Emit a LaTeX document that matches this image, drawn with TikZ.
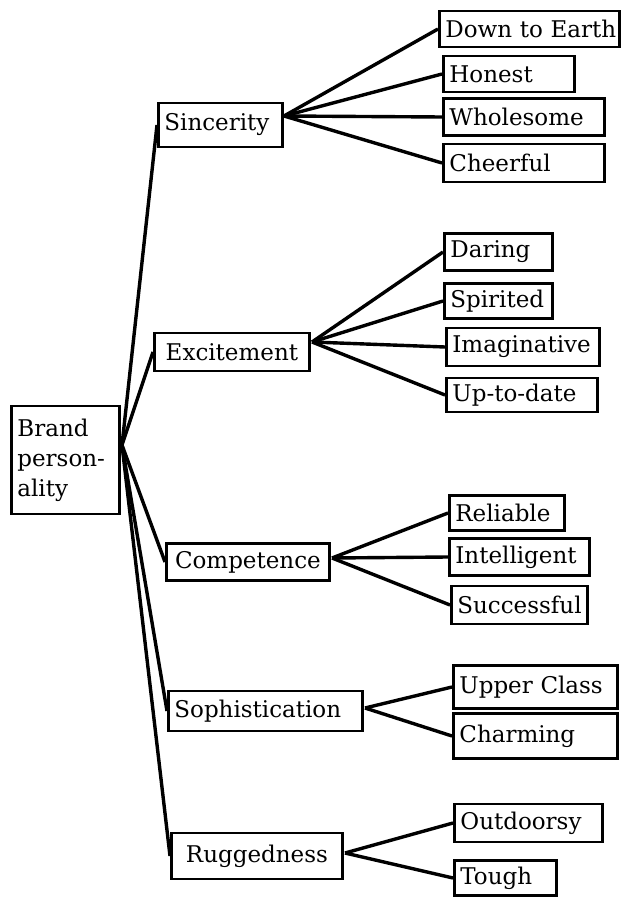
\documentclass[tikz,border=0pt]{standalone}
\usepackage{fontspec}
\setmainfont{DejaVu Serif}
\usetikzlibrary{positioning}
\tikzset{
  leafbox/.style={draw, line width=1.4pt, anchor=west, inner xsep=3pt, inner ysep=0pt, align=left},
  traitbox/.style={draw, line width=1.4pt, anchor=west, inner xsep=3pt, inner ysep=0pt, align=center},
  branch/.style={line width=1.7pt}
}
\begin{document}
\begin{tikzpicture}[x=0.5pt, y=-0.5pt, font=\fontsize{11.5pt}{15pt}\selectfont]
\useasboundingbox (0,0) rectangle (622,898);

\node (brand) at (10,460) [traitbox, align=left, text width=48pt, minimum height=54pt] {Brand\\person-\\ality};
\coordinate (brand_fan) at (122,445);

% Sincerity
\node (sinc) at (157,125) [traitbox, align=left, text width=56pt, minimum height=22pt] {Sincerity};
\coordinate (sinc_fan) at (284,116);
\node (sinc_earth) at (438,29) [leafbox, text width=84pt, minimum height=18pt] {Down~to~Earth};
\node (sinc_honest) at (442,74) [leafbox, text width=59.5pt, minimum height=18pt] {Honest};
\node (sinc_whole) at (442,117) [leafbox, text width=74.5pt, minimum height=18.5pt] {Wholesome};
\node (sinc_cheer) at (442,163) [leafbox, text width=74.5pt, minimum height=19pt] {Cheerful};

\draw [branch] (sinc_fan) edge (sinc_earth.west);
\draw [branch] (sinc_fan) edge (sinc_honest.west);
\draw [branch] (sinc_fan) edge (sinc_whole.west);
\draw [branch] (sinc_fan) edge (sinc_cheer.west);

% Excitement
\node (exc) at (153,352) [traitbox, text width=71.5pt, minimum height=19pt] {Excitement};
\coordinate (exc_fan) at (312,342);
\node (exc_daring) at (443,252) [leafbox, text width=48pt, minimum height=18.5pt] {Daring};
\node (exc_spirit) at (443,301) [leafbox, text width=48pt, minimum height=17.5pt] {Spirited};
\node (exc_imag) at (445,347) [leafbox, text width=70.5pt, minimum height=19pt] {Imaginative};
\node (exc_update) at (445,395) [leafbox, text width=69.5pt, minimum height=17pt] {Up-to-date};

\draw [branch] (exc_fan) edge (exc_daring.west);
\draw [branch] (exc_fan) edge (exc_spirit.west);
\draw [branch] (exc_fan) edge (exc_imag.west);
\draw [branch] (exc_fan) edge (exc_update.west);

% Competence
\node (comp) at (165,562) [traitbox, text width=75.5pt, minimum height=18.5pt] {Competence};
\coordinate (comp_fan) at (332,558);
\node (comp_reli) at (448,513) [leafbox, text width=51.5pt, minimum height=17.5pt] {Reliable};
\node (comp_intel) at (448,557) [leafbox, text width=64pt, minimum height=18.5pt] {Intelligent};
\node (comp_succ) at (450,605) [leafbox, text width=62pt, minimum height=19pt] {Successful};

\draw [branch] (comp_fan) edge (comp_reli.west);
\draw [branch] (comp_fan) edge (comp_intel.west);
\draw [branch] (comp_fan) edge (comp_succ.west);

% Sophistication
\node (soph) at (167,711) [traitbox, align=left, text width=91pt, minimum height=20pt] {Sophistication};
\coordinate (soph_fan) at (365,708);
\node (soph_upper) at (452,687) [leafbox, text width=76pt, minimum height=21.5pt] {Upper~Class};
\node (soph_charm) at (452,736) [leafbox, text width=76pt, minimum height=22.5pt] {Charming};

\draw [branch] (soph_fan) edge (soph_upper.west);
\draw [branch] (soph_fan) edge (soph_charm.west);

% Ruggedness
\node (rugg) at (170,856) [traitbox, text width=79.5pt, minimum height=23pt] {Ruggedness};
\coordinate (rugg_fan) at (345,853);
\node (rugg_out) at (453,823) [leafbox, text width=68pt, minimum height=19pt] {Outdoorsy};
\node (rugg_tough) at (453,878) [leafbox, text width=45pt, minimum height=17.5pt] {Tough};

\draw [branch] (rugg_fan) edge (rugg_out.west);
\draw [branch] (rugg_fan) edge (rugg_tough.west);

% trunk
\draw [branch] (brand_fan) edge (sinc.west);
\draw [branch] (brand_fan) edge (exc.west);
\draw [branch] (brand_fan) edge (comp.west);
\draw [branch] (brand_fan) edge (soph.west);
\draw [branch] (brand_fan) edge (rugg.west);

\end{tikzpicture}
\end{document}
